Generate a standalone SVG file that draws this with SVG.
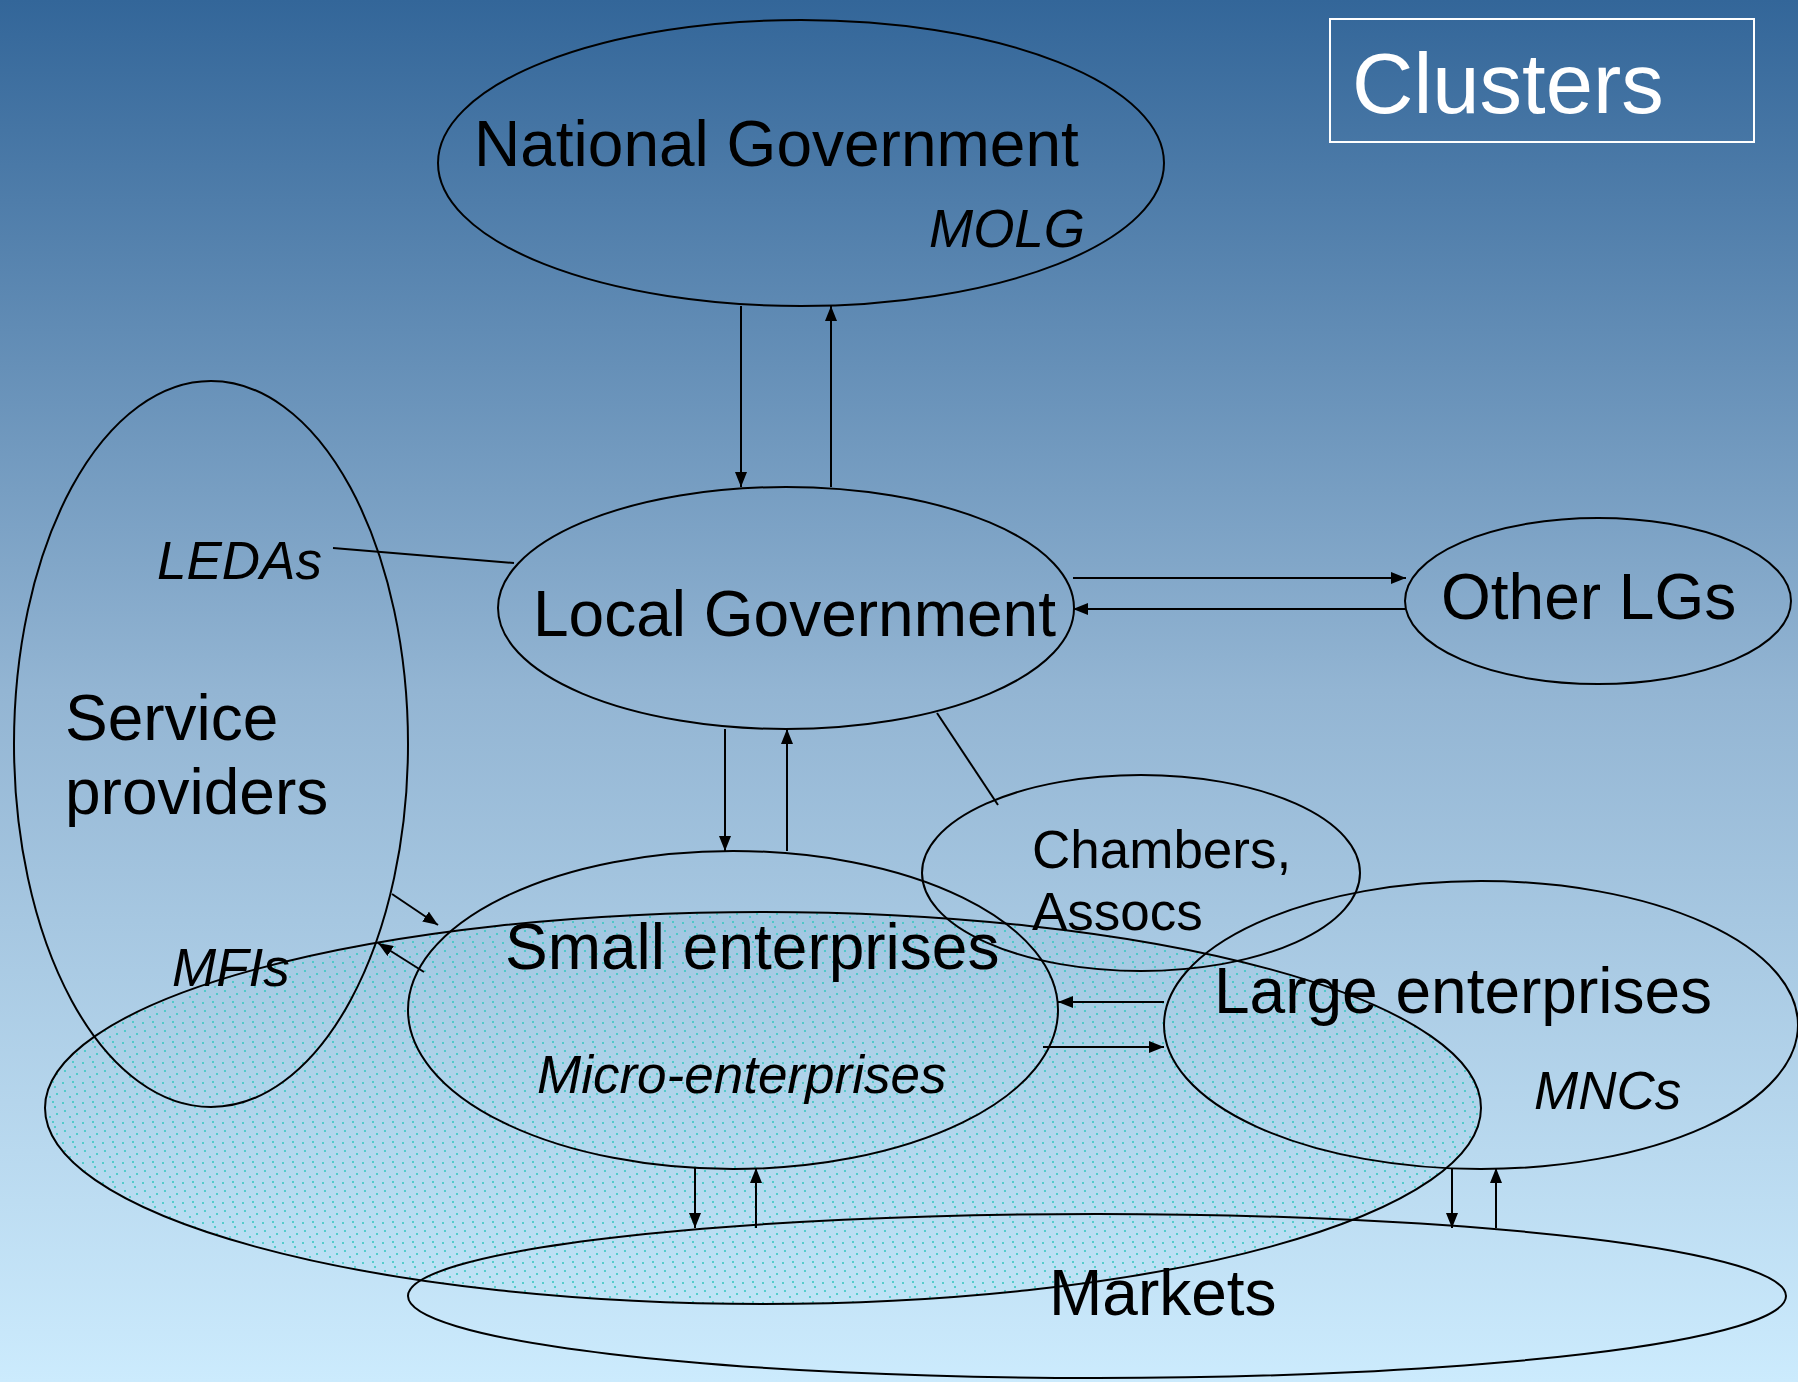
<svg xmlns="http://www.w3.org/2000/svg" width="1798" height="1382" viewBox="0 0 1798 1382">
<defs>
<linearGradient id="bg" x1="0" y1="0" x2="0" y2="1">
<stop offset="0" stop-color="#336699"/>
<stop offset="0.5" stop-color="#93b5d3"/>
<stop offset="1" stop-color="#ccebfd"/>
</linearGradient>
<pattern id="dots" width="20" height="20" patternUnits="userSpaceOnUse">
<rect x="0" y="0" width="20" height="20" fill="#5fd0d8" fill-opacity="0.06"/>
<rect x="2" y="2" width="2" height="2" fill="#3cc8c0" fill-opacity="0.8"/>
<rect x="12" y="1" width="2" height="2" fill="#3cc8c0" fill-opacity="0.8"/>
<rect x="14" y="6" width="2" height="2" fill="#3cc8c0" fill-opacity="0.8"/>
<rect x="4" y="10" width="2" height="2" fill="#3cc8c0" fill-opacity="0.8"/>
<rect x="16" y="13" width="2" height="2" fill="#3cc8c0" fill-opacity="0.8"/>
<rect x="9" y="16" width="2" height="2" fill="#3cc8c0" fill-opacity="0.8"/>
</pattern>
<marker id="ah" markerUnits="userSpaceOnUse" markerWidth="16" markerHeight="12" refX="15" refY="6" orient="auto">
<path d="M0,0 L15,6 L0,12 z" fill="#000"/>
</marker>
</defs>
<style>
.node{fill:none;stroke:#000;stroke-width:2}
.t{font-family:"Liberation Sans",Arial,sans-serif;fill:#000}
.big{font-size:64px}
.it{font-size:53px;font-style:italic}
.c{stroke:#000;stroke-width:2;fill:none}
.a{stroke:#000;stroke-width:2;fill:none;marker-end:url(#ah)}
</style>
<rect x="0" y="0" width="1798" height="1382" fill="url(#bg)"/>

<g id="clusters">
<ellipse cx="763" cy="1108" rx="718" ry="196" fill="url(#dots)" stroke="#000" stroke-width="2"/>
</g>

<g id="title">
<rect x="1330" y="19" width="424" height="123" fill="none" stroke="#fff" stroke-width="2"/>
<text x="1352" y="113" font-family="Liberation Sans, Arial, sans-serif" font-size="85" fill="#fff">Clusters</text>
</g>

<g id="national-government">
<ellipse class="node" cx="801" cy="163" rx="363" ry="143"/>
<text class="t big" x="474" y="166">National Government</text>
<text class="t it" x="929" y="247">MOLG</text>
</g>

<g id="local-government">
<ellipse class="node" cx="786" cy="608" rx="288" ry="121"/>
<text class="t big" x="533" y="636">Local Government</text>
</g>

<g id="other-lgs">
<ellipse class="node" cx="1598" cy="601" rx="193" ry="83"/>
<text class="t big" x="1441" y="619">Other LGs</text>
</g>

<g id="service-providers">
<ellipse class="node" cx="211" cy="744" rx="197" ry="363"/>
<text class="t big" x="65" y="740">Service</text>
<text class="t big" x="65" y="814">providers</text>
<text class="t it" x="157" y="579">LEDAs</text>
<text class="t it" x="172" y="986">MFIs</text>
</g>

<g id="chambers">
<ellipse class="node" cx="1141" cy="873" rx="219" ry="98"/>
<text class="t" font-size="53" x="1032" y="868">Chambers,</text>
<text class="t" font-size="53" x="1032" y="930">Assocs</text>
</g>

<g id="small-enterprises">
<ellipse class="node" cx="733" cy="1010" rx="325" ry="159"/>
<text class="t big" x="505" y="969">Small enterprises</text>
<text class="t it" x="537" y="1093">Micro-enterprises</text>
</g>

<g id="large-enterprises">
<ellipse class="node" cx="1481" cy="1025" rx="317" ry="144"/>
<text class="t big" x="1214" y="1013">Large enterprises</text>
<text class="t it" x="1534" y="1109">MNCs</text>
</g>

<g id="markets">
<ellipse class="node" cx="1097" cy="1296" rx="689" ry="82"/>
<text class="t big" x="1049" y="1315">Markets</text>
</g>

<g id="connectors">
<line class="a" x1="741" y1="306" x2="741" y2="487"/>
<line class="a" x1="831" y1="487" x2="831" y2="306"/>
<line class="a" x1="1073" y1="578" x2="1406" y2="578"/>
<line class="a" x1="1406" y1="609" x2="1073" y2="609"/>
<line class="c" x1="333" y1="548" x2="514" y2="563"/>
<line class="c" x1="937" y1="713" x2="998" y2="805"/>
<line class="a" x1="725" y1="729" x2="725" y2="851"/>
<line class="a" x1="787" y1="851" x2="787" y2="729"/>
<line class="a" x1="392" y1="894" x2="438" y2="925"/>
<line class="a" x1="424" y1="972" x2="378" y2="943"/>
<line class="a" x1="1164" y1="1002" x2="1058" y2="1002"/>
<line class="a" x1="1043" y1="1047" x2="1164" y2="1047"/>
<line class="a" x1="695" y1="1168" x2="695" y2="1228"/>
<line class="a" x1="756" y1="1228" x2="756" y2="1168"/>
<line class="a" x1="1452" y1="1168" x2="1452" y2="1228"/>
<line class="a" x1="1496" y1="1228" x2="1496" y2="1168"/>
</g>
</svg>
